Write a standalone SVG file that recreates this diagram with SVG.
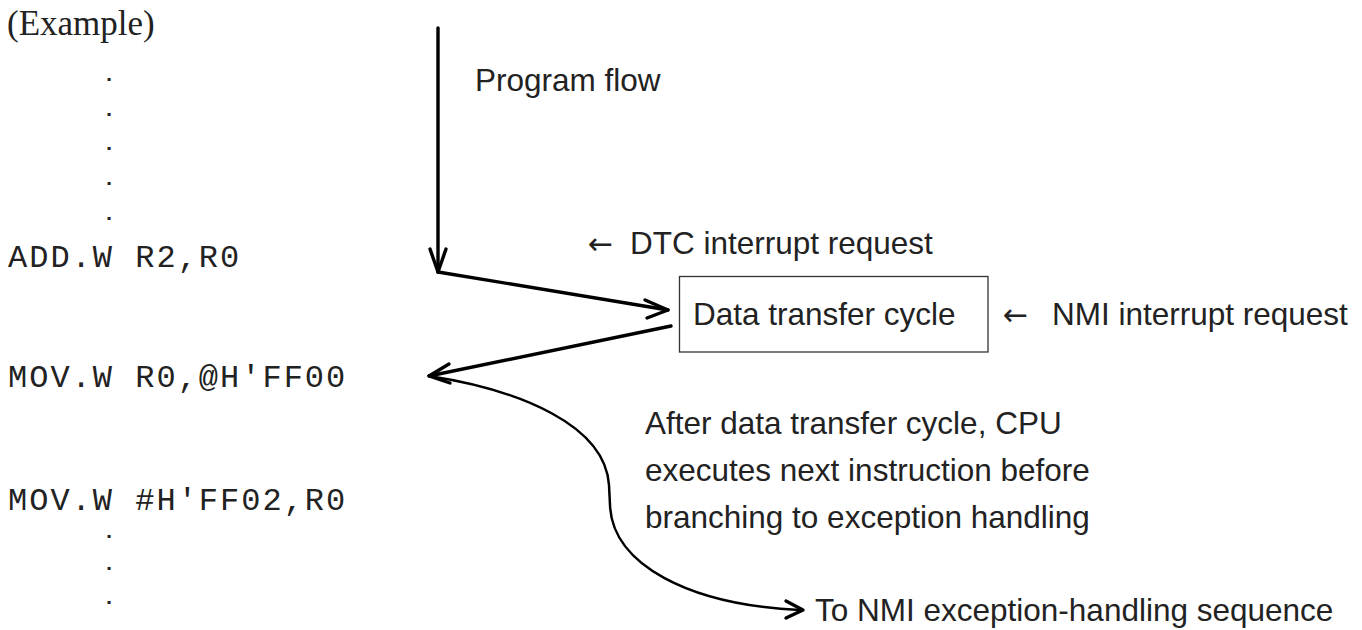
<svg xmlns="http://www.w3.org/2000/svg" width="1362" height="630" viewBox="0 0 1362 630">
<style>
.serif{font-family:"Liberation Serif","Times New Roman",serif;font-size:35px;fill:#222}
.mono{font-family:"Liberation Mono","Courier New",monospace;font-size:32px;letter-spacing:2px;fill:#222}
.dot{font-family:"Liberation Mono","Courier New",monospace;font-size:21px;font-weight:bold;fill:#222;text-anchor:middle}
.sans{font-family:"Liberation Sans",Arial,sans-serif;font-size:31.5px;fill:#222}
.arr{font-family:"DejaVu Sans",sans-serif;font-size:30px}
.line{fill:none;stroke:#000;stroke-width:3.4;stroke-linecap:round;stroke-linejoin:round}
.curve{fill:none;stroke:#000;stroke-width:2.5;stroke-linecap:round}
.box{fill:#fff;stroke:#333;stroke-width:1.3}
</style>
<rect width="1362" height="630" fill="#fff"/>
<g id="code">
<text class="serif" x="7" y="35">(Example)</text>
<text class="dot" x="109" y="81">.</text>
<text class="dot" x="109" y="116">.</text>
<text class="dot" x="109" y="150">.</text>
<text class="dot" x="109" y="185">.</text>
<text class="dot" x="109" y="220">.</text>
<text class="mono" x="8" y="267">ADD.W R2,R0</text>
<text class="mono" x="8" y="387">MOV.W R0,@H'FF00</text>
<text class="mono" x="8" y="510">MOV.W #H'FF02,R0</text>
<text class="dot" x="109" y="538">.</text>
<text class="dot" x="109" y="570">.</text>
<text class="dot" x="109" y="604">.</text>
</g>
<g id="labels">
<text class="sans" x="475" y="91">Program flow</text>
<text class="sans" y="254"><tspan class="arr" x="588">←</tspan><tspan x="630">DTC interrupt request</tspan></text>
<text class="sans" y="325"><tspan class="arr" x="1003">←</tspan><tspan x="1052">NMI interrupt request</tspan></text>
<text class="sans" x="645" y="434">After data transfer cycle, CPU</text>
<text class="sans" x="645" y="481">executes next instruction before</text>
<text class="sans" x="645" y="528">branching to exception handling</text>
<text class="sans" x="815" y="621">To NMI exception-handling sequence</text>
</g>
<g id="dtc-box">
<rect class="box" x="679.5" y="276.5" width="308.5" height="75.5"/>
<text class="sans" x="693" y="325">Data transfer cycle</text>
</g>
<g id="connectors">
<path class="line" d="M438,28 L438,272"/>
<path class="line" d="M430,249 L438,272 L446,249"/>
<path class="line" d="M438,272 L668,310"/>
<path class="line" d="M645,300 L668,310 L647,318"/>
<path class="line" d="M671,326 L429,376"/>
<path class="line" d="M449,364 L429,376 L450,383"/>
<path class="curve" d="M429,376 C520,390 605,425 609,485 L610,505 C612,565 690,605 800,610"/>
<path class="line" d="M786,601 L803,610 L786,618"/>
</g>
</svg>
